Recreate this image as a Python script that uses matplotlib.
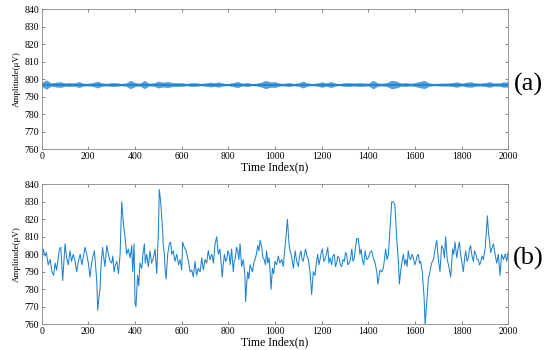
import numpy as np
import matplotlib
matplotlib.use('Agg')
import matplotlib.pyplot as plt

# ---- data ----
# (a) filtered signal: centre level and burst envelope every 20 samples
base_a = 797.0
env_idx = list(range(0, 2001, 20))
env_a = [1.0, 2.5, 0.8, 1.2, 1.5, 0.8, 1.0, 0.8, 1.5, 0.6,
         0.6, 1.0, 1.8, 0.7, 0.6, 1.0, 0.9, 0.5, 0.7, 2.2,
         1.0, 0.6, 2.2, 0.6, 0.8, 1.8, 1.2, 1.6, 1.0, 1.0,
         0.9, 0.5, 0.9, 0.9, 0.5, 0.7, 1.2, 1.0, 1.3, 0.6,
         0.5, 1.0, 1.6, 0.6, 1.0, 0.5, 0.6, 1.2, 2.2, 1.4,
         1.5, 0.6, 0.6, 1.0, 0.5, 0.8, 1.8, 0.7, 0.5, 0.7,
         1.4, 0.8, 1.6, 0.6, 0.5, 0.9, 1.0, 0.7, 1.0, 0.8,
         0.6, 2.3, 0.8, 0.6, 1.0, 2.3, 1.8, 0.7, 1.0, 0.6,
         1.0, 1.6, 2.2, 0.8, 0.5, 0.6, 0.7, 0.7, 1.0, 1.4,
         0.6, 1.2, 1.4, 0.8, 0.6, 1.0, 1.4, 0.7, 0.8, 1.4,
         1.2]

# (b) raw signal
raw_idx = [0, 7, 14, 20, 28, 36, 44, 51, 58, 64, 70, 76, 82, 90, 95, 100, 107, 114, 121, 128,
           135, 142, 150, 157, 165, 172, 179, 186, 193, 200, 207, 214, 220, 226, 232, 236, 240, 245, 250, 255,
           261, 266, 271, 279, 286, 293, 300, 305, 310, 316, 322, 329, 336, 343, 350, 357, 364, 371, 379, 386,
           390, 396, 400, 404, 411, 416, 421, 429, 433, 440, 444, 450, 457, 464, 471, 479, 486, 493, 500, 504,
           510, 519, 521, 526, 529, 533, 540, 547, 553, 557, 564, 571, 579, 586, 593, 600, 604, 611, 619, 629,
           636, 643, 650, 657, 664, 671, 679, 686, 693, 700, 707, 714, 721, 729, 736, 743, 750, 757, 764, 769,
           774, 778, 783, 788, 793, 798, 803, 808, 814, 821, 825, 829, 835, 840, 845, 850, 857, 864, 871, 874,
           878, 883, 888, 893, 898, 903, 909, 914, 920, 926, 931, 936, 943, 948, 954, 959, 964, 969, 974, 979,
           983, 989, 994, 1000, 1007, 1014, 1021, 1029, 1035, 1040, 1047, 1053, 1060, 1064, 1069, 1074, 1079, 1086, 1093, 1100,
           1105, 1111, 1116, 1121, 1126, 1131, 1137, 1143, 1150, 1157, 1164, 1171, 1177, 1183, 1188, 1193, 1198, 1203, 1209, 1214,
           1220, 1226, 1231, 1236, 1243, 1248, 1254, 1259, 1264, 1269, 1274, 1280, 1286, 1291, 1297, 1302, 1307, 1312, 1317, 1323,
           1329, 1334, 1340, 1345, 1350, 1357, 1364, 1369, 1374, 1380, 1386, 1393, 1400, 1407, 1414, 1421, 1429, 1436, 1441, 1450,
           1457, 1464, 1469, 1474, 1480, 1486, 1493, 1500, 1507, 1514, 1521, 1529, 1533, 1538, 1543, 1550, 1556, 1561, 1566, 1571,
           1576, 1581, 1587, 1593, 1599, 1604, 1609, 1614, 1619, 1624, 1631, 1639, 1643, 1650, 1657, 1664, 1671, 1679, 1686, 1693,
           1700, 1707, 1714, 1721, 1726, 1731, 1738, 1745, 1753, 1761, 1766, 1771, 1779, 1784, 1790, 1795, 1800, 1807, 1812, 1817,
           1823, 1829, 1833, 1838, 1844, 1850, 1855, 1861, 1866, 1871, 1876, 1881, 1887, 1893, 1901, 1910, 1915, 1919, 1924, 1929,
           1936, 1943, 1950, 1957, 1964, 1971, 1979, 1986, 1993, 2000]
raw_b = [797, 803, 799, 801, 794, 797, 790, 788, 795, 791, 797, 803, 804, 785, 796, 806, 798, 794, 802, 796,
         800, 797, 790, 796, 800, 794, 799, 804, 800, 795, 787, 795, 799, 802, 792, 785, 768, 775, 780, 795,
         804, 798, 793, 805, 800, 796, 795, 799, 790, 794, 796, 789, 800, 830, 818, 810, 800, 803, 798, 805,
         790, 806, 772, 770, 788, 782, 795, 792, 799, 806, 795, 800, 793, 802, 795, 798, 803, 789, 812, 837,
         830, 812, 805, 800, 791, 786, 800, 806, 807, 800, 802, 796, 800, 794, 797, 791, 807, 804, 802, 796,
         790, 791, 787, 796, 788, 792, 790, 798, 791, 797, 795, 802, 797, 800, 795, 806, 810, 800, 803, 795,
         787, 794, 800, 796, 797, 802, 800, 794, 803, 790, 796, 797, 804, 802, 797, 806, 793, 797, 788, 773,
         782, 790, 786, 794, 792, 790, 795, 797, 800, 805, 802, 808, 804, 798, 797, 794, 802, 795, 798, 790,
         780, 792, 789, 796, 794, 799, 795, 797, 793, 800, 810, 820, 806, 802, 800, 796, 792, 802, 796, 793,
         799, 802, 797, 796, 800, 803, 799, 797, 790, 777, 790, 788, 795, 800, 794, 797, 801, 803, 796, 797,
         800, 804, 795, 798, 794, 799, 800, 793, 795, 799, 798, 794, 793, 797, 796, 801, 800, 794, 795, 797,
         803, 796, 798, 804, 809, 809, 800, 803, 797, 794, 802, 797, 798, 801, 802, 798, 795, 790, 783, 791,
         790, 792, 797, 803, 797, 800, 815, 830, 830, 828, 810, 795, 783, 790, 795, 800, 794, 797, 793, 802,
         798, 797, 800, 798, 794, 796, 799, 800, 795, 796, 790, 775, 760, 772, 786, 790, 795, 797, 803, 808,
         797, 790, 805, 803, 798, 810, 797, 793, 787, 803, 800, 807, 798, 803, 807, 800, 796, 790, 797, 802,
         796, 798, 803, 805, 799, 796, 802, 800, 797, 797, 794, 795, 799, 797, 804, 822, 812, 808, 801, 803,
         806, 800, 795, 800, 788, 800, 797, 800, 796, 802]

x_ticks = np.arange(0, 2001, 200)
y_ticks = np.arange(760, 841, 10)

plt.rcParams['font.family'] = ['Liberation Serif', 'DejaVu Serif']
line_color = '#1f82cf'

fig = plt.figure(figsize=(5.5, 3.5), dpi=100)
ax_a = fig.add_axes([0.0758, 0.5734, 0.8485, 0.40])
ax_b = fig.add_axes([0.0758, 0.0734, 0.8485, 0.40])

# panel (a): dense bursts drawn as an envelope band around the centre level
env_arr = np.array(env_a)
ax_a.fill_between(env_idx, base_a - env_arr, base_a + env_arr,
                  color=line_color, lw=0.3, alpha=0.75)
ax_a.plot([env_idx[0], env_idx[-1]], [base_a, base_a], color=line_color, lw=1.3)

# panel (b)
ax_b.plot(raw_idx, raw_b, color=line_color, lw=0.75)

for ax in (ax_a, ax_b):
    ax.set_xlim(0, 2000)
    ax.set_ylim(760, 840)
    ax.set_xticks(x_ticks)
    ax.set_yticks(y_ticks)
    ax.tick_params(direction='in', top=True, right=True, length=2.5, width=0.5,
                   labelsize=7, pad=2, color='#555555')
    for s in ax.spines.values():
        s.set_color('#888888')
        s.set_linewidth(0.6)
    ax.set_xlabel('Time Index(n)', fontsize=8.5, labelpad=0)
    ax.set_ylabel('Amplitude(\u03bcV)', fontsize=6.5, labelpad=2)

fig.text(0.960, 0.760, '(a)', fontsize=19, ha='center', va='center')
fig.text(0.960, 0.262, '(b)', fontsize=19, ha='center', va='center')

fig.savefig('out.png', dpi=100)
